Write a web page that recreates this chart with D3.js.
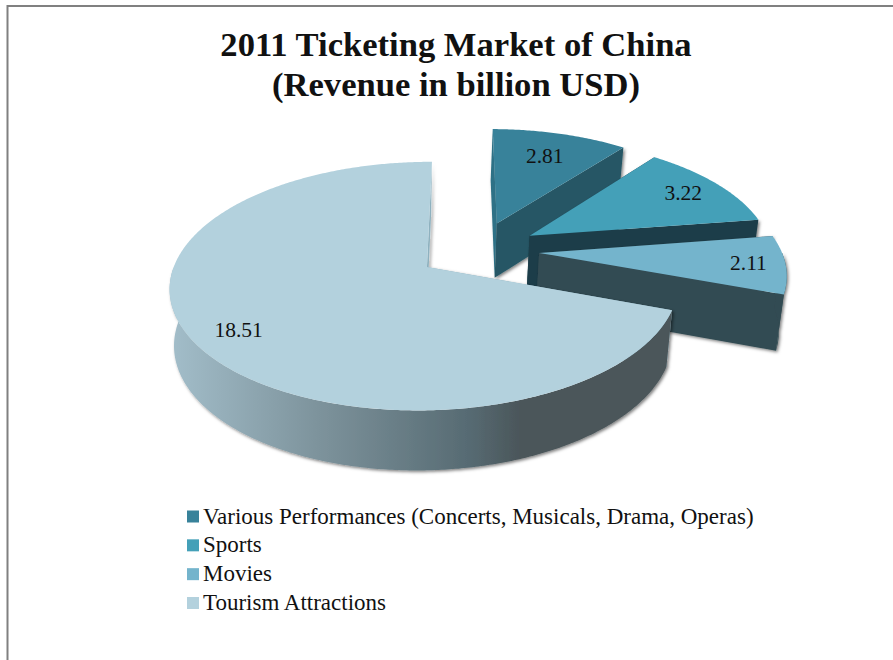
<!DOCTYPE html>
<html>
<head>
<meta charset="utf-8">
<script src="https://cdn.jsdelivr.net/npm/d3@7/dist/d3.min.js"></script>
<style>
  html, body { margin: 0; padding: 0; background: #fff; }
  svg { display: block; }
  text { font-family: "Liberation Serif", serif; fill: #111; }
</style>
</head>
<body>
<svg id="chart" width="893" height="660"></svg>
<script>
// Revenue figures and their labels
const categories = [
  "Various Performances (Concerts, Musicals, Drama, Operas)",
  "Sports",
  "Movies",
  "Tourism Attractions"
];
const revenue = [2.81, 3.22, 2.11, 18.51];
const titleLines = ["2011 Ticketing Market of China", "(Revenue in billion USD)"];

// Face colours per slice
const topColors = ["#38829a", "#44a0b8", "#74b4cc", "#b3d1dd"];
const startWallColors = ["#2f7186", "#1b3e49", "#324b52", "#8eb1bf"];
const endWallColors = ["#255765", "#1b3e49", "#324b52", "#8eb1bf"];
const rimColors = ["#255765", "#1b3e49", "#324b52", "url(#rimShade)"];
const labelRadii = [0.73, 0.81, 0.85, 0.83];

// Perspective constants of the tilted pie
const view = { x0: 478, y0: 250, ax: 245, ay: 116, skew: -2, persp: 0.15, perspX: 0.008, explode: 0.25 };

const svg = d3.select("#chart");
const defs = svg.append("defs");

const shadow = defs.append("filter").attr("id", "soft")
  .attr("x", "-10%").attr("y", "-10%").attr("width", "125%").attr("height", "125%");
shadow.append("feDropShadow")
  .attr("dx", 1.5).attr("dy", 1.5).attr("stdDeviation", 1.4)
  .attr("flood-color", "#000").attr("flood-opacity", 0.5);

const rimGradient = defs.append("linearGradient").attr("id", "rimShade")
  .attr("gradientUnits", "userSpaceOnUse")
  .attr("x1", 172).attr("x2", 520).attr("y1", 0).attr("y2", 0);
[[0, "#a2bdc9"], [0.41, "#7e949d"], [0.86, "#566a72"], [1, "#4b565a"]].forEach(([o, c]) =>
  rimGradient.append("stop").attr("offset", o).attr("stop-color", c));

// Maps a point on the pie plane to the page; z runs 0 (top face) to 1 (base)
function project(X, Y, z = 0) {
  const w = 1 + view.persp * Y + view.perspX * X;
  const px = view.x0 + (view.ax * X + view.skew * Y) / w;
  const py = view.y0 - view.ay * Y / w;
  return [px - z * 0.02 * (px - 390), py + z * (31.5 + 23.6 / w)];
}

const slices = d3.pie().sort(null).startAngle(0).endAngle(2 * Math.PI)(revenue);
const line = d3.line();

function offsetOf(s) {
  const mid = (s.startAngle + s.endAngle) / 2;
  return [view.explode * Math.sin(mid), view.explode * Math.cos(mid)];
}
function polar(s, r, a, z) {
  const [ox, oy] = offsetOf(s);
  return project(ox + r * Math.sin(a), oy + r * Math.cos(a), z);
}
function arcAngles(a0, a1) {
  const n = Math.max(2, Math.ceil((a1 - a0) / 0.01));
  return d3.range(n + 1).map(i => a0 + (a1 - a0) * i / n);
}
function radialWall(s, a) {
  return line([polar(s, 0, a, 0), polar(s, 1, a, 0), polar(s, 1, a, 1), polar(s, 0, a, 1)]) + "Z";
}

const solids = svg.append("g").selectAll("g").data(slices).join("g");

// Each slice: base shadow, radial walls, then the forward rim and the top face
solids.each(function (s, i) {
  const g = d3.select(this);
  const walls = g.append("g").attr("filter", "url(#soft)");
  walls.append("path").attr("d", radialWall(s, s.startAngle)).attr("fill", startWallColors[i]);
  walls.append("path").attr("d", radialWall(s, s.endAngle)).attr("fill", endWallColors[i]);

  // Only the part of the rim turned toward the viewer is drawn
  const a0 = Math.max(s.startAngle, Math.PI / 2);
  const a1 = Math.min(s.endAngle, 3 * Math.PI / 2);
  if (a1 > a0) {
    const angles = arcAngles(a0, a1);
    const upper = angles.map(a => polar(s, 1, a, 0));
    const lower = angles.map(a => polar(s, 1, a, 1)).reverse();
    walls.append("path").attr("d", line(upper.concat(lower)) + "Z").attr("fill", rimColors[i]);
  }

  const outline = [polar(s, 0, s.startAngle, 0)]
    .concat(arcAngles(s.startAngle, s.endAngle).map(a => polar(s, 1, a, 0)));
  g.append("path").attr("d", line(outline) + "Z").attr("fill", topColors[i]);
});

// Value labels sit on the top faces
svg.append("g").selectAll("text").data(slices).join("text")
  .attr("text-anchor", "middle")
  .attr("dominant-baseline", "central")
  .attr("font-size", 21.5)
  .attr("transform", (s, i) => {
    const p = polar(s, labelRadii[i], (s.startAngle + s.endAngle) / 2, 0);
    return `translate(${p[0]},${p[1]})`;
  })
  .text(s => s.value.toFixed(2));

// Outer frame: only the top and left rules show
svg.append("path")
  .attr("d", "M7.5,660V6H893")
  .attr("fill", "none").attr("stroke", "#808080").attr("stroke-width", 2);

// Title
svg.append("g").selectAll("text").data(titleLines).join("text")
  .attr("x", 456)
  .attr("y", (d, i) => 56 + i * 40)
  .attr("text-anchor", "middle")
  .attr("font-size", 34.6)
  .attr("font-weight", "bold")
  .attr("fill", "#000")
  .text(d => d);

// Legend
const legendY = d3.scalePoint().domain(categories).range([516.5, 603]);
const legend = svg.append("g").selectAll("g").data(categories).join("g")
  .attr("transform", d => `translate(0,${legendY(d)})`);
legend.append("rect")
  .attr("x", 187).attr("y", -6).attr("width", 12).attr("height", 12)
  .attr("fill", (d, i) => topColors[i]);
legend.append("text")
  .attr("x", 203).attr("y", 7)
  .attr("font-size", 23)
  .text(d => d);
</script>
</body>
</html>
